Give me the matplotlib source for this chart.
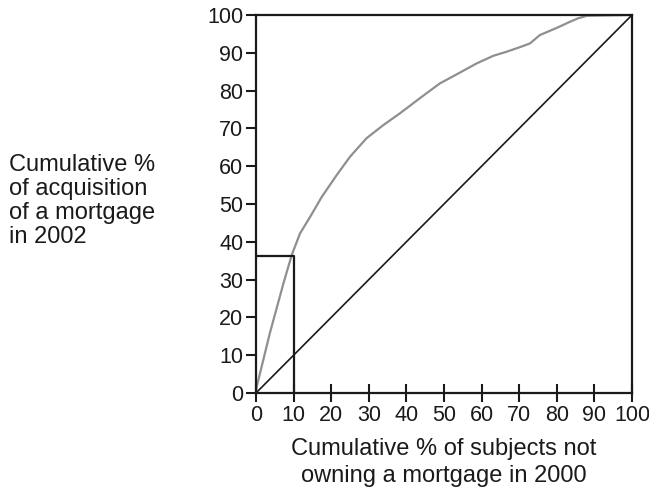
import matplotlib
matplotlib.use("Agg")
import matplotlib.pyplot as plt

# Curve: cumulative % of subjects not owning a mortgage in 2000 (x)
# vs cumulative % of acquisition of a mortgage in 2002 (y)
curve_x = [0, 0.2, 3.7, 7.3, 9.5, 11.7, 14.4, 17.5, 21.5, 25.0, 29.4, 33.9,
           38.3, 43.6, 48.9, 54.3, 58.7, 63.1, 66.7, 70.2, 72.9, 75.5, 78.6,
           80.0, 83.5, 85.6, 88.0, 100]
curve_y = [0, 1.7, 15.9, 29.0, 36.5, 42.2, 46.6, 51.9, 57.7, 62.5, 67.4, 70.9,
           74.0, 78.0, 81.9, 84.8, 87.2, 89.2, 90.3, 91.5, 92.5, 94.7, 96.0,
           96.6, 98.2, 99.1, 99.8, 100]
diag = [0, 100]
marker_x = 10
marker_y = 36.2
ticks = list(range(0, 101, 10))

fs = 15.5
lfs = 17
plt.rcParams['font.family'] = ['Liberation Sans', 'DejaVu Sans']

fig = plt.figure(figsize=(6.49, 4.93), dpi=100)
ax = fig.add_axes([256/649, 100/493, 376/649, 378/493])

ax.plot(curve_x, curve_y, color='#8f8f8f', lw=1.6, solid_capstyle='butt', zorder=2)
ax.plot(diag, diag, color='#1a1a1a', lw=1.2, zorder=3)
ax.plot([0, marker_x, marker_x], [marker_y, marker_y, 0], color='#1a1a1a', lw=1.6, zorder=3)

ax.set_xlim(0, 100)
ax.set_ylim(0, 100)
ax.set_xticks(ticks)
ax.set_yticks(ticks)
ax.set_xticklabels([str(t) for t in ticks], fontsize=fs)
ax.set_yticklabels([str(t) for t in ticks], fontsize=fs)
ax.tick_params(axis='x', direction='inout', length=13, width=1.5, pad=2, color='#1a1a1a', labelcolor='#1a1a1a')
ax.tick_params(axis='y', direction='out', length=7, width=1.5, pad=2, color='#1a1a1a', labelcolor='#1a1a1a')
for s in ax.spines.values():
    s.set_linewidth(1.6)
    s.set_color('#1a1a1a')

fig.text(444/649, 1 - 438/493,
         "Cumulative % of subjects not\nowning a mortgage in 2000",
         ha='center', va='top', fontsize=lfs, linespacing=1.3, color='#1a1a1a')
fig.text(9/649, 1 - 201/493,
         "Cumulative %\nof acquisition\nof a mortgage\nin 2002",
         ha='left', va='center', fontsize=lfs, linespacing=1.12, color='#1a1a1a')

fig.savefig("out.png", dpi=100)
